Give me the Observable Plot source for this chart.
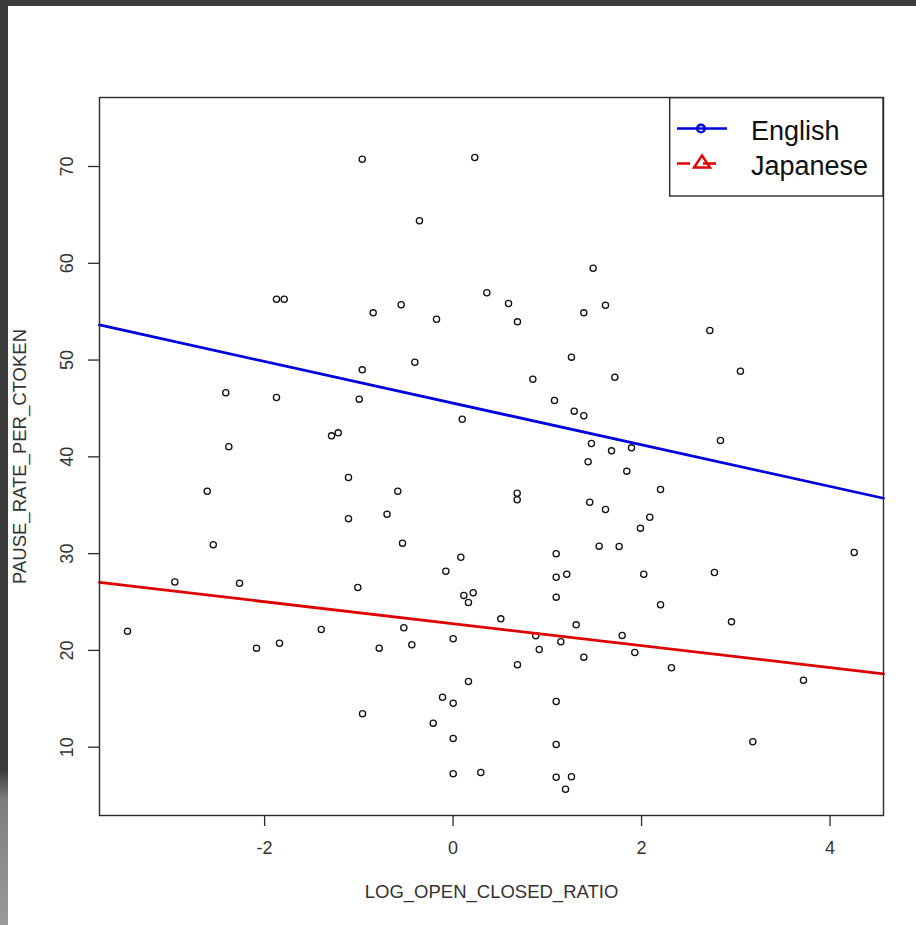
<!DOCTYPE html>
<html>
<head>
<meta charset="utf-8">
<script src="https://cdn.jsdelivr.net/npm/d3@7"></script>
<script src="https://cdn.jsdelivr.net/npm/@observablehq/plot@0.6"></script>
<style>
  html, body { margin: 0; padding: 0; }
  body {
    width: 916px; height: 925px; overflow: hidden;
    background: linear-gradient(to bottom, #3c3c3c 0px, #3c3c3c 770px, #7e7e7e 800px, #9a9a9a 925px);
    font-family: "Liberation Sans", Arial, sans-serif;
  }
  #page { position: absolute; left: 8px; top: 6px; width: 908px; height: 919px; background: #fff; }
  #legend { position: absolute; left: 661px; top: 91px; }
</style>
</head>
<body>
<div id="page"><div id="chart"></div><div id="legend"></div></div>
<script>
// ---- data ----
const logOpenClosedRatio = [
  -3.455, -2.953, -2.609, -2.545, -2.412, -2.380, -2.266, -2.086, -1.874, -1.792,
  -1.874, -1.842, -1.399, -1.290, -1.219, -1.110, -1.110, -1.011, -0.964, -0.964,
  -0.996, -0.961, -0.848, -0.784, -0.701, -0.587, -0.551, -0.537, -0.523, -0.438,
  -0.406, -0.357, -0.211, -0.176, -0.112, -0.077, 0.001, 0.001, 0.001, 0.001,
  0.082, 0.097, 0.114, 0.163, 0.213, 0.163, 0.230, 0.294, 0.358, 0.506,
  0.588, 0.683, 0.683, 0.680, 0.680, 0.846, 0.877, 0.914, 1.076, 1.094,
  1.094, 1.094, 1.094, 1.094, 1.094, 1.143, 1.206, 1.193, 1.256, 1.256,
  1.285, 1.306, 1.387, 1.387, 1.387, 1.433, 1.450, 1.468, 1.486, 1.550,
  1.617, 1.617, 1.681, 1.716, 1.762, 1.794, 1.843, 1.893, 1.928, 1.988,
  2.023, 2.087, 2.201, 2.201, 2.317, 2.724, 2.773, 2.837, 2.954, 3.049,
  3.180, 3.718, 4.256
];
const pauseRatePerCtoken = [
  21.98, 27.07, 36.45, 30.91, 46.62, 41.04, 26.94, 20.23, 56.29, 56.29,
  46.13, 20.74, 22.16, 42.17, 42.48, 37.87, 33.60, 26.50, 70.75, 48.99,
  45.96, 13.45, 54.88, 20.23, 34.07, 36.45, 55.71, 31.08, 22.34, 20.58,
  49.78, 64.39, 12.48, 54.22, 15.16, 28.18, 21.20, 14.54, 10.90, 7.25,
  29.63, 43.89, 25.67, 24.95, 25.95, 16.79, 70.93, 7.38, 56.95, 23.26,
  55.84, 18.51, 53.95, 36.24, 35.56, 48.02, 21.51, 20.09, 45.82, 29.98,
  27.56, 25.50, 14.72, 10.28, 6.90, 20.89, 27.87, 5.66, 50.30, 6.94,
  44.72, 22.64, 54.88, 44.24, 19.30, 39.49, 35.31, 41.38, 59.49, 30.77,
  55.67, 34.56, 40.62, 48.23, 30.74, 21.54, 38.52, 40.93, 19.78, 32.63,
  27.87, 33.76, 36.63, 24.71, 18.20, 53.05, 28.05, 41.69, 22.95, 48.85,
  10.56, 16.92, 30.12
];
const seriesNames = ["English", "Japanese"];
const fitIntercepts = [45.55, 22.76];
const fitSlopes = [-2.152, -1.135];
const seriesColors = ["#0000dd", "#e00000"];
const xTicks = [-2, 0, 2, 4];
const yTicks = [10, 20, 30, 40, 50, 60, 70];
const xLabel = "LOG_OPEN_CLOSED_RATIO";
const yLabel = "PAUSE_RATE_PER_CTOKEN";
const xDomain = [-3.752, 4.567];
const yDomain = [2.94, 77.13];

// ---- derived tables ----
const points = logOpenClosedRatio.map((x, i) => ({x, y: pauseRatePerCtoken[i]}));
const fitLines = seriesNames.map((name, k) =>
  xDomain.map(x => ({series: name, x, y: fitIntercepts[k] + fitSlopes[k] * x}))
);

const FONT = "'Liberation Sans', Arial, sans-serif";
const axisColor = "#2a2a2a";
const textColor = "#333";

const chart = Plot.plot({
  width: 908,
  height: 919,
  marginLeft: 91,
  marginTop: 91,
  marginRight: 33,
  marginBottom: 110,
  style: {background: "transparent", fontFamily: FONT, color: axisColor},
  x: {domain: xDomain, label: null},
  y: {domain: yDomain, label: null},
  marks: [
    Plot.axisX({ticks: xTicks, tickSize: 11, tickFormat: () => "", label: null, strokeWidth: 1.3, stroke: axisColor}),
    Plot.axisY({ticks: yTicks, tickSize: 11, tickFormat: () => "", label: null, strokeWidth: 1.3, stroke: axisColor}),
    Plot.text(xTicks, {x: d => d, frameAnchor: "bottom", dy: 33, text: d => String(d), fontSize: 18, lineAnchor: "middle", textAnchor: "middle", fill: textColor}),
    Plot.text(yTicks, {y: d => d, frameAnchor: "left", dx: -32, rotate: -90, text: d => String(d), fontSize: 18, lineAnchor: "middle", textAnchor: "middle", fill: textColor}),
    Plot.text([xLabel], {frameAnchor: "bottom", dy: 77, text: d => d, fontSize: 18.5, lineAnchor: "middle", textAnchor: "middle", fill: textColor}),
    Plot.text([yLabel], {frameAnchor: "left", dx: -79, rotate: -90, text: d => d, fontSize: 18.5, lineAnchor: "middle", textAnchor: "middle", fill: textColor}),
    Plot.dot(points, {x: "x", y: "y", r: 3.1, stroke: "#111", strokeWidth: 1.3, fill: "none"}),
    ...fitLines.map((pts, k) => Plot.line(pts, {x: "x", y: "y", stroke: seriesColors[k], strokeWidth: 2.8})),
    Plot.frame({stroke: axisColor, strokeWidth: 1.4})
  ]
});
document.getElementById("chart").appendChild(chart);

// ---- legend (R-style box, top right) ----
const lg = d3.select("#legend").append("svg")
  .attr("width", 214).attr("height", 100)
  .style("display", "block").style("overflow", "visible");
lg.append("rect").attr("x", 0.7).attr("y", 0.7).attr("width", 213.3).attr("height", 98.3)
  .attr("fill", "#fff").attr("stroke", axisColor).attr("stroke-width", 1.4);
const rowY = [31.5, 66.5];
seriesNames.forEach((name, k) => {
  const g = lg.append("g");
  g.append("line").attr("x1", 8).attr("x2", 58).attr("y1", rowY[k]).attr("y2", rowY[k])
    .attr("stroke", seriesColors[k]).attr("stroke-width", 2.6)
    .attr("stroke-dasharray", k === 1 ? "13,13" : null);
  if (k === 0) {
    g.append("circle").attr("cx", 32).attr("cy", rowY[k]).attr("r", 3.8)
      .attr("fill", "none").attr("stroke", seriesColors[k]).attr("stroke-width", 2.4);
  } else {
    const cx = 33, cy = rowY[k] - 1;
    g.append("path").attr("d", `M${cx},${cy - 7} L${cx + 8},${cy + 5} L${cx - 8},${cy + 5} Z`)
      .attr("fill", "none").attr("stroke", seriesColors[k]).attr("stroke-width", 2.4);
  }
  g.append("text").attr("x", 82).attr("y", rowY[k] + 11.5)
    .attr("font-family", FONT).attr("font-size", 27).attr("fill", "#111").text(name);
});
</script>
</body>
</html>
